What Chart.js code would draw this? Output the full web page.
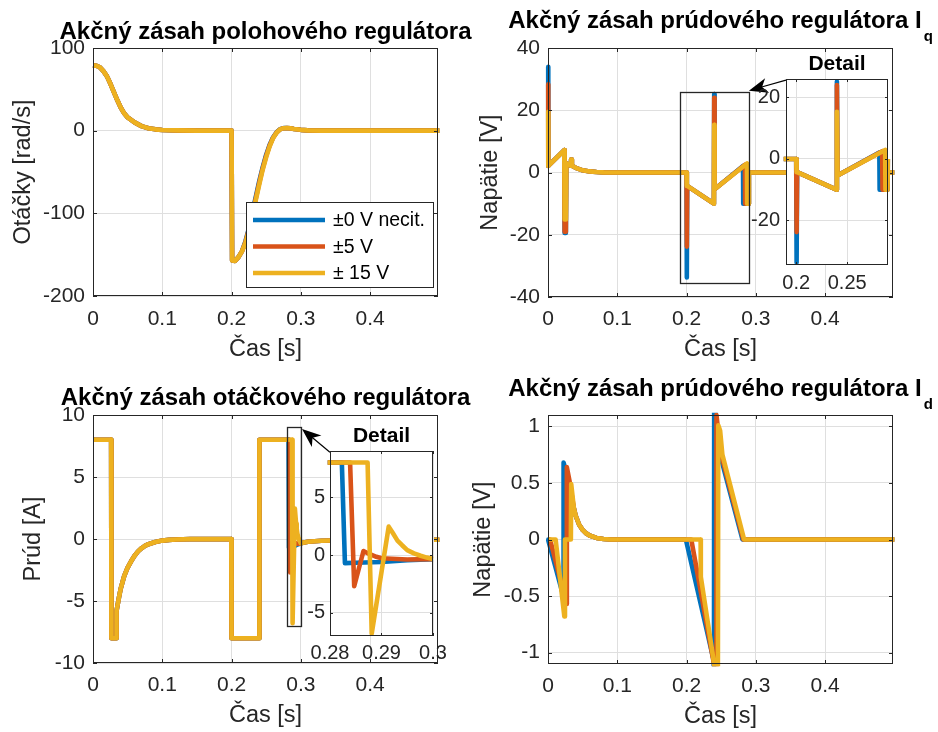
<!DOCTYPE html>
<html>
<head>
<meta charset="utf-8">
<script src="https://cdn.jsdelivr.net/npm/chart.js@4.4.1/dist/chart.umd.min.js"></script>
<style>
html, body { margin: 0; padding: 0; background: #fff; }
#fig { position: relative; width: 938px; height: 732px; overflow: hidden; background: #fff; }
#fig canvas { position: absolute; left: 0; top: 0; }
</style>
</head>
<body>
<div id="fig">
  <canvas id="pos" width="938" height="732"></canvas>
  <canvas id="iq" width="938" height="732"></canvas>
  <canvas id="ctrl" width="938" height="732"></canvas>
  <canvas id="id" width="938" height="732"></canvas>
  <canvas id="iqDetail" width="938" height="732"></canvas>
  <canvas id="ctrlDetail" width="938" height="732"></canvas>
</div>
<script>
// --- legend / ticks ---
var labels = ['±0 V necit.', '±5 V', '± 15 V'];
var timeTicks = [0, 0.1, 0.2, 0.3, 0.4];
var timeRange = [0, 0.498];
var posTicks = [-200, -100, 0, 100];
var iqTicks = [-40, -20, 0, 20, 40];
var ctrlTicks = [-10, -5, 0, 5, 10];
var idTicks = [-1, -0.5, 0, 0.5, 1];
var iqDetailXTicks = [0.2, 0.25];
var iqDetailYTicks = [-20, 0, 20];
var ctrlDetailXTicks = [0.28, 0.29, 0.3];
var ctrlDetailYTicks = [-5, 0, 5];
var iqDetailX = [0.19, 0.29];
var iqDetailY = [-34.5, 26];
var ctrlDetailX = [0.28, 0.3];
var ctrlDetailY = [-7, 9];

// --- position controller output: speed [rad/s] ---
var posT = [0, 0.005, 0.01, 0.015, 0.02, 0.025, 0.03, 0.035, 0.04, 0.045, 0.05, 0.06, 0.07, 0.08, 0.09, 0.1, 0.12, 0.15, 0.199, 0.2, 0.2008, 0.205, 0.21, 0.215, 0.22, 0.225, 0.23, 0.235, 0.24, 0.245, 0.25, 0.255, 0.26, 0.265, 0.27, 0.275, 0.28, 0.285, 0.29, 0.3, 0.31, 0.33, 0.36, 0.4, 0.45, 0.5];
var posBlue = [79, 78.5, 76.5, 72, 66, 57, 47, 37, 28, 21, 16, 10, 5.5, 3, 1.6, 0.8, 0.3, 0.05, 0, 0, -157, -157.5, -153, -146, -134, -118, -99, -80, -61, -44, -29, -17, -8, -2, 1.8, 3.1, 3.2, 2.8, 2, 1, 0.4, 0.1, 0, 0, 0, 0];
var posOrange = [79, 78.5, 76.5, 72, 66, 57, 47, 37, 28, 21, 16, 10, 5.5, 3, 1.6, 0.8, 0.3, 0.05, 0, 0, -157, -157.5, -153, -146, -135, -119.5, -101, -82, -63, -45.5, -30.5, -18, -8.5, -2.2, 1.6, 3, 3.2, 2.8, 2, 1, 0.4, 0.1, 0, 0, 0, 0];
var posYellow = [79, 78.5, 76.5, 72, 66, 57, 47, 37, 28, 21, 16, 10, 5.5, 3, 1.6, 0.8, 0.3, 0.05, 0, 0, -157, -157.5, -153, -146, -136, -121, -103, -84, -65, -47, -32, -19, -9, -2.5, 1.5, 3, 3.2, 2.8, 2, 1, 0.4, 0.1, 0, 0, 0, 0];

// --- Iq current controller output: voltage [V] ---
var iqTBlue = [0, 0.0004, 0.0235, 0.024, 0.0258, 0.0264, 0.033, 0.0334, 0.0345, 0.04, 0.05, 0.06, 0.07, 0.08, 0.1, 0.2, 0.2004, 0.2009, 0.2395, 0.2399, 0.2405, 0.2815, 0.2818, 0.2895, 0.29, 0.5];
var iqBlue = [34, 2.1, 7.2, -19.4, -19.4, 3.0, 2.2, 4.2, 2.2, 1.5, 0.7, 0.35, 0.15, 0.05, 0, 0, -33.7, -4.3, -10, 25.2, -5.4, 2.1, -10, -10, 0, 0];
var iqTOrange = [0, 0.0004, 0.0235, 0.024, 0.0258, 0.0264, 0.033, 0.0334, 0.0345, 0.04, 0.05, 0.06, 0.07, 0.08, 0.1, 0.2, 0.2004, 0.2009, 0.2395, 0.2399, 0.2405, 0.2843, 0.2846, 0.2895, 0.29, 0.5];
var iqOrange = [28.3, 2.1, 7.2, -19.0, -19.0, 3.0, 2.2, 4.2, 2.2, 1.5, 0.7, 0.35, 0.15, 0.05, 0, 0, -23.8, -4.3, -10, 24, -5.4, 2.5, -10, -10, 0, 0];
var iqTYellow = [0, 0.0004, 0.0235, 0.024, 0.0258, 0.0264, 0.033, 0.0334, 0.0345, 0.04, 0.05, 0.06, 0.07, 0.08, 0.1, 0.2, 0.2004, 0.2009, 0.2395, 0.2399, 0.2405, 0.2872, 0.2875, 0.2895, 0.29, 0.5];
var iqYellow = [19.5, 2.1, 7.2, -15.1, -15.1, 3.0, 2.2, 4.2, 2.2, 1.5, 0.7, 0.35, 0.15, 0.05, 0, 0, -4.3, -4.3, -10, 15.3, -5.4, 2.9, -10, -10, 0, 0];

// --- speed controller output: current [A] ---
var ctrlHeadT = [0, 0.0262, 0.0266, 0.0336, 0.034, 0.0375, 0.04, 0.0425, 0.045, 0.05, 0.055, 0.06, 0.065, 0.07, 0.075, 0.08, 0.09, 0.1, 0.11, 0.12, 0.14, 0.1996, 0.2, 0.2398, 0.2402];
var ctrlHead = [8, 8, -8, -8, -5.8, -4.7, -4.0, -3.5, -3.0, -2.3, -1.8, -1.35, -1.0, -0.75, -0.55, -0.42, -0.24, -0.13, -0.07, -0.04, -0.01, 0, -8, -8, 8];
var ctrlTBlue = [0.2823, 0.2829, 0.285, 0.29, 0.295, 0.3, 0.31, 0.33, 0.36, 0.4, 0.5];
var ctrlBlue = [8, -0.7, -0.66, -0.6, -0.45, -0.35, -0.22, -0.14, -0.1, -0.08, -0.06];
var ctrlTOrange = [0.2839, 0.2847, 0.2865, 0.2875, 0.289, 0.29, 0.295, 0.3, 0.31, 0.33, 0.36, 0.4, 0.5];
var ctrlOrange = [8, -2.7, 0.35, 0.12, -0.15, -0.28, -0.38, -0.35, -0.22, -0.14, -0.1, -0.08, -0.06];
var ctrlTYellow = [0.2873, 0.2881, 0.2914, 0.2922, 0.2931, 0.294, 0.295, 0.2963, 0.2976, 0.2988, 0.3, 0.31, 0.33, 0.36, 0.4, 0.5];
var ctrlYellow = [8, -6.8, 2.46, 1.9, 1.25, 0.85, 0.43, 0.15, -0.06, -0.22, -0.35, -0.22, -0.14, -0.1, -0.08, -0.06];

// --- Id current controller output: voltage [V] ---
var idTBlue = [0, 0.0005, 0.0221, 0.0225, 0.026, 0.031, 0.0375, 0.04, 0.045, 0.05, 0.055, 0.06, 0.07, 0.08, 0.09, 0.199, 0.2392, 0.2396, 0.2399, 0.2455, 0.2492, 0.2807, 0.5];
var idBlue = [0, -0.01, -0.5, 0.68, 0.6, 0.45, 0.27, 0.21, 0.13, 0.085, 0.055, 0.035, 0.014, 0.005, 0, 0, -1.07, -1.2, 1.28, 0.82, 0.73, 0, 0];
var idTOrange = [0, 0.003, 0.0268, 0.0272, 0.031, 0.0375, 0.04, 0.045, 0.05, 0.055, 0.06, 0.07, 0.08, 0.09, 0.2068, 0.2396, 0.2428, 0.2432, 0.247, 0.2505, 0.2819, 0.5];
var idOrange = [0, 0, -0.57, 0.64, 0.52, 0.27, 0.21, 0.13, 0.085, 0.055, 0.035, 0.014, 0.005, 0, 0, -1.1, -1.25, 1.1, 0.88, 0.74, 0, 0];
var idTYellow = [0, 0.011, 0.0236, 0.0245, 0.033, 0.0335, 0.0375, 0.04, 0.045, 0.05, 0.055, 0.06, 0.07, 0.08, 0.09, 0.2203, 0.2206, 0.2396, 0.2452, 0.2458, 0.2485, 0.2517, 0.2831, 0.5];
var idYellow = [0, 0, -0.68, 0, 0, 0.49, 0.27, 0.21, 0.13, 0.085, 0.055, 0.035, 0.014, 0.005, 0, 0, -0.33, -1.09, -1.3, 1.01, 0.96, 0.75, 0, 0];

var FONT = '"Liberation Sans", Arial, Helvetica, sans-serif';
var AXIS = '#262626', GRID = '#dfdfdf';
var BLUE = '#0072BD', ORANGE = '#D95319', YELLOW = '#EDB120';
var LW = 4.6, W = 938, H = 732;

Chart.defaults.font.family = FONT;
Chart.defaults.color = AXIS;

function three(tb, vb, to, vo, ty, vy) {
	return [
		{ label: labels[0], color: BLUE, t: tb, v: vb },
		{ label: labels[1], color: ORANGE, t: to, v: vo },
		{ label: labels[2], color: YELLOW, t: ty, v: vy }
	];
}

var decor = {
	id: 'decor',
	beforeDraw: function (chart, args, o) {
		if (!o.bg) return;
		var a = chart.chartArea, ctx = chart.ctx;
		ctx.save();
		ctx.fillStyle = '#fff';
		ctx.fillRect(a.left, a.top, a.right - a.left, a.bottom - a.top);
		ctx.restore();
	},
	afterDatasetsDraw: function (chart, args, o) {
		var ctx = chart.ctx, a = chart.chartArea, xs = chart.scales.x, ys = chart.scales.y;
		ctx.save();

		if (o.rect) {
			var rx0 = Math.round(xs.getPixelForValue(o.rect.x[0])), rx1 = Math.round(xs.getPixelForValue(o.rect.x[1]));
			var ry0 = Math.round(ys.getPixelForValue(o.rect.y[1])), ry1 = Math.round(ys.getPixelForValue(o.rect.y[0]));
			ctx.strokeStyle = AXIS;
			ctx.lineWidth = 1.3;
			ctx.strokeRect(rx0 + 0.5, ry0 + 0.5, rx1 - rx0, ry1 - ry0);
		}

		if (o.legend) {
			var lw = 187, lh = 85;
			var lx = a.right - 5 - lw, ly = a.bottom - 9 - lh;
			ctx.fillStyle = '#fff';
			ctx.fillRect(lx, ly, lw, lh);
			ctx.strokeStyle = AXIS;
			ctx.lineWidth = 1;
			ctx.strokeRect(lx + 0.5, ly + 0.5, lw, lh);
			ctx.font = '19.5px ' + FONT;
			ctx.textBaseline = 'middle';
			ctx.textAlign = 'left';
			chart.data.datasets.forEach(function (ds, i) {
				var yy = ly + 18 + i * 26.5;
				ctx.strokeStyle = ds.borderColor;
				ctx.lineWidth = LW;
				ctx.beginPath();
				ctx.moveTo(lx + 7, yy);
				ctx.lineTo(lx + 79, yy);
				ctx.stroke();
				ctx.fillStyle = '#000';
				ctx.fillText(ds.label, lx + 87, yy + 1);
			});
		}

		// axes box and inward ticks
		ctx.strokeStyle = AXIS;
		ctx.lineWidth = 1;
		ctx.strokeRect(a.left + 0.5, a.top + 0.5, a.right - a.left - 1, a.bottom - a.top - 1);
		var tl = o.tick || 4;
		ctx.beginPath();
		xs.ticks.forEach(function (t) {
			var p = Math.round(xs.getPixelForValue(t.value)) + 0.5;
			ctx.moveTo(p, a.bottom); ctx.lineTo(p, a.bottom - tl);
			ctx.moveTo(p, a.top); ctx.lineTo(p, a.top + tl);
		});
		ys.ticks.forEach(function (t) {
			var p = Math.round(ys.getPixelForValue(t.value)) + 0.5;
			ctx.moveTo(a.left, p); ctx.lineTo(a.left + tl, p);
			ctx.moveTo(a.right, p); ctx.lineTo(a.right - tl, p);
		});
		ctx.stroke();

		if (o.arrow) {
			var x0 = xs.getPixelForValue(o.arrow[0][0]), y0 = ys.getPixelForValue(o.arrow[0][1]);
			var x1 = xs.getPixelForValue(o.arrow[1][0]), y1 = ys.getPixelForValue(o.arrow[1][1]);
			var ang = Math.atan2(y1 - y0, x1 - x0), c = Math.cos(ang), s = Math.sin(ang);
			var L = 19, hw = 7.5;
			ctx.strokeStyle = '#000';
			ctx.lineWidth = 1.2;
			ctx.beginPath();
			ctx.moveTo(x0, y0);
			ctx.lineTo(x1 - 0.6 * L * c, y1 - 0.6 * L * s);
			ctx.stroke();
			var bx = x1 - L * c, by = y1 - L * s;
			ctx.fillStyle = '#000';
			ctx.beginPath();
			ctx.moveTo(x1, y1);
			ctx.lineTo(bx + hw * s, by - hw * c);
			ctx.lineTo(x1 - 0.72 * L * c, y1 - 0.72 * L * s);
			ctx.lineTo(bx - hw * s, by + hw * c);
			ctx.closePath();
			ctx.fill();
		}

		if (o.title) {
			ctx.fillStyle = '#000';
			ctx.textBaseline = 'alphabetic';
			ctx.textAlign = 'left';
			ctx.font = 'bold 24px ' + FONT;
			var w1 = ctx.measureText(o.title).width, w2 = 0;
			if (o.sub) {
				ctx.font = 'bold 15px ' + FONT;
				w2 = ctx.measureText(o.sub).width + 2;
			}
			var tx = (a.left + a.right) / 2 - (w1 + w2) / 2;
			ctx.font = 'bold 24px ' + FONT;
			ctx.fillText(o.title, tx, o.titleY);
			if (o.sub) {
				ctx.font = 'bold 15px ' + FONT;
				ctx.fillText(o.sub, tx + w1 + 2, o.titleY + 13);
			}
		}

		if (o.detail) {
			ctx.fillStyle = '#000';
			ctx.textAlign = 'center';
			ctx.textBaseline = 'alphabetic';
			ctx.font = 'bold 21px ' + FONT;
			ctx.fillText(o.detail, (a.left + a.right) / 2, a.top - 9);
		}
		ctx.restore();
	}
};

function makeAxes(id, area, o) {
	return new Chart(document.getElementById(id), {
		type: 'line',
		data: {
			// first series drawn first, last one (yellow) ends up on top
			datasets: o.series.map(function (s, i) {
				return {
					label: s.label,
					borderColor: s.color,
					backgroundColor: s.color,
					data: s.t.map(function (t, k) { return { x: t, y: s.v[k] }; }),
					order: o.series.length - 1 - i,
					borderWidth: LW,
					pointRadius: 0,
					tension: 0,
					fill: false,
					clip: LW / 2,
					borderJoinStyle: 'round',
					borderCapStyle: 'butt'
				};
			})
		},
		options: {
			responsive: false,
			animation: false,
			events: [],
			layout: { padding: { left: area.l - o.yW, top: area.t, right: W - area.r, bottom: H - area.b - o.xH } },
			plugins: { legend: { display: false }, tooltip: { enabled: false }, decor: o.decor },
			scales: {
				x: {
					type: 'linear', bounds: 'data', min: o.xr[0], max: o.xr[1],
					afterBuildTicks: function (sc) { sc.ticks = o.xt.map(function (v) { return { value: v }; }); },
					afterFit: function (sc) { sc.height = o.xH; },
					grid: { color: GRID, drawTicks: false },
					border: { display: false },
					ticks: { autoSkip: false, maxRotation: 0, padding: o.xPad, font: { size: o.fs }, color: AXIS,
						callback: function (v) { return String(v); } },
					title: { display: !!o.xTitle, text: o.xTitle || '', font: { size: 23.5 }, color: AXIS, padding: 0 }
				},
				y: {
					type: 'linear', bounds: 'data', min: o.yr[0], max: o.yr[1],
					afterBuildTicks: function (sc) { sc.ticks = o.yt.map(function (v) { return { value: v }; }); },
					afterFit: function (sc) { sc.width = o.yW; },
					grid: { color: GRID, drawTicks: false },
					border: { display: false },
					ticks: { autoSkip: false, padding: o.yPad, font: { size: o.fs }, color: AXIS,
						callback: function (v) { return String(v); } },
					title: { display: !!o.yTitle, text: o.yTitle || '', font: { size: 23.5 }, color: AXIS, padding: 0 }
				}
			}
		},
		plugins: [decor]
	});
}

makeAxes('pos', { l: 93, t: 48, r: 438, b: 296 }, {
	series: three(posT, posBlue, posT, posOrange, posT, posYellow),
	xr: timeRange, yr: [-200, 100], xt: timeTicks, yt: posTicks,
	yW: 83.8, xH: 68.1, fs: 21, xPad: 10.5, yPad: 8,
	xTitle: 'Čas [s]', yTitle: 'Otáčky [rad/s]',
	decor: { title: 'Akčný zásah polohového regulátora', titleY: 39, legend: true }
});

makeAxes('iq', { l: 548, t: 48, r: 893, b: 297 }, {
	series: three(iqTBlue, iqBlue, iqTOrange, iqOrange, iqTYellow, iqYellow),
	xr: timeRange, yr: [-40, 40], xt: timeTicks, yt: iqTicks,
	yW: 71.6, xH: 67.1, fs: 21, xPad: 10, yPad: 8,
	xTitle: 'Čas [s]', yTitle: 'Napätie [V]',
	decor: { title: 'Akčný zásah prúdového regulátora I', sub: 'q', titleY: 28,
		rect: { x: iqDetailX, y: [-35.5, 26] }, arrow: [[0.3435, 29.7], [0.29, 26.3]] }
});

makeAxes('ctrl', { l: 93, t: 415, r: 438, b: 663 }, {
	series: three(ctrlHeadT.concat(ctrlTBlue), ctrlHead.concat(ctrlBlue),
		ctrlHeadT.concat(ctrlTOrange), ctrlHead.concat(ctrlOrange),
		ctrlHeadT.concat(ctrlTYellow), ctrlHead.concat(ctrlYellow)),
	xr: timeRange, yr: [-10, 10], xt: timeTicks, yt: ctrlTicks,
	yW: 73.3, xH: 67.1, fs: 21, xPad: 10, yPad: 8,
	xTitle: 'Čas [s]', yTitle: 'Prúd [A]',
	decor: { title: 'Akčný zásah otáčkového regulátora', titleY: 405,
		rect: { x: ctrlDetailX, y: ctrlDetailY }, arrow: [[0.342, 7.0], [0.3017, 8.87]] }
});

makeAxes('id', { l: 548, t: 415, r: 893, b: 664 }, {
	series: three(idTBlue, idBlue, idTOrange, idOrange, idTYellow, idYellow),
	xr: timeRange, yr: [-1.1, 1.1], xt: timeTicks, yt: idTicks,
	yW: 78.8, xH: 67.1, fs: 21, xPad: 10, yPad: 8,
	xTitle: 'Čas [s]', yTitle: 'Napätie [V]',
	decor: { title: 'Akčný zásah prúdového regulátora I', sub: 'd', titleY: 396 }
});

makeAxes('iqDetail', { l: 786, t: 79, r: 888, b: 265 }, {
	series: three(iqTBlue, iqBlue, iqTOrange, iqOrange, iqTYellow, iqYellow),
	xr: iqDetailX, yr: iqDetailY, xt: iqDetailXTicks, yt: iqDetailYTicks,
	yW: 40, xH: 30, fs: 20, xPad: 6, yPad: 6,
	decor: { bg: true, detail: 'Detail', tick: 3 }
});

makeAxes('ctrlDetail', { l: 330, t: 451, r: 433, b: 636 }, {
	series: three(ctrlHeadT.concat(ctrlTBlue), ctrlHead.concat(ctrlBlue),
		ctrlHeadT.concat(ctrlTOrange), ctrlHead.concat(ctrlOrange),
		ctrlHeadT.concat(ctrlTYellow), ctrlHead.concat(ctrlYellow)),
	xr: ctrlDetailX, yr: ctrlDetailY, xt: ctrlDetailXTicks, yt: ctrlDetailYTicks,
	yW: 40, xH: 30, fs: 20, xPad: 5, yPad: 5,
	decor: { bg: true, detail: 'Detail', tick: 3 }
});
</script>
</body>
</html>
